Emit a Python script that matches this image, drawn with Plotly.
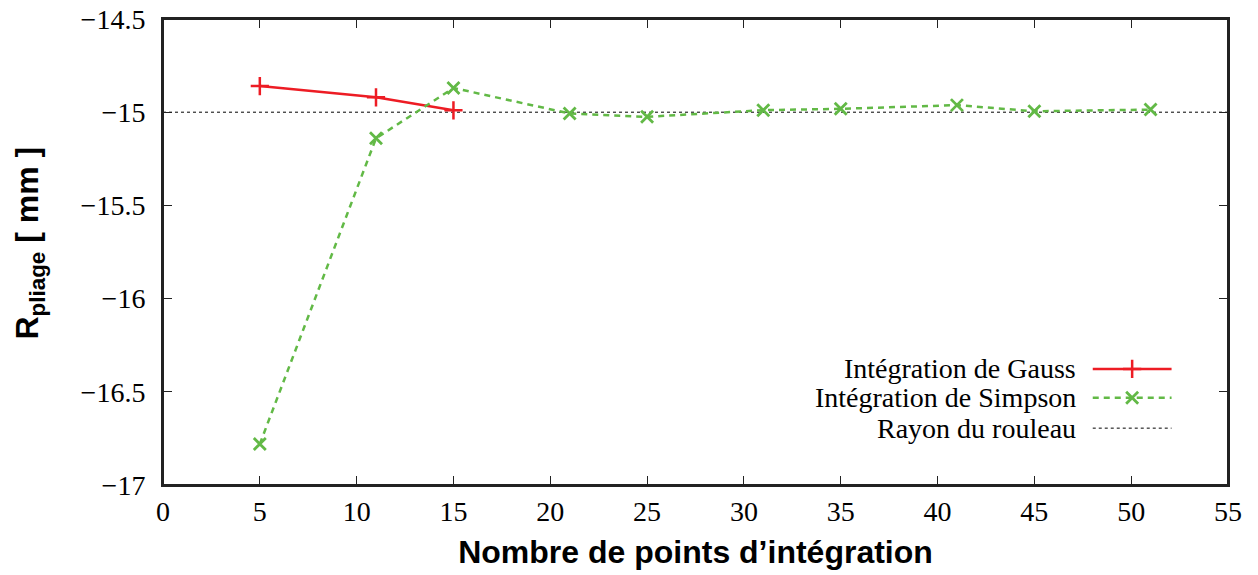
import plotly.graph_objects as go

# points d'intégration
x_gauss = [5, 11, 15]
r_gauss = [-14.86, -14.92, -14.99]

x_simpson = [5, 11, 15, 21, 25, 31, 35, 41, 45, 51]
r_simpson = [-16.78, -15.14, -14.87, -15.007, -15.025, -14.989, -14.982, -14.962, -14.995, -14.986]

rayon = -15.0

x_ticks = list(range(0, 56, 5))
y_ticks = [-14.5, -15, -15.5, -16, -16.5, -17]

RED = "#ed1c24"
GREEN = "#62b946"
SERIF = "Liberation Serif, Times New Roman, serif"
SANS = "Liberation Sans, Arial, sans-serif"

fig = go.Figure()

fig.add_trace(go.Scatter(
    x=x_gauss, y=r_gauss, mode="lines+markers",
    line=dict(color=RED, width=2.5),
    marker=dict(symbol="cross-thin", size=13, line=dict(color=RED, width=2.5)),
    showlegend=False,
))
fig.add_trace(go.Scatter(
    x=x_simpson, y=r_simpson, mode="lines+markers",
    line=dict(color=GREEN, width=2.5, dash="6px,5px"),
    marker=dict(symbol="x-thin", size=12, line=dict(color=GREEN, width=2.8)),
    showlegend=False,
))

# rayon du rouleau
fig.add_shape(type="line", xref="paper", x0=0, x1=1, y0=rayon, y1=rayon,
              line=dict(color="black", width=1, dash="dot"), layer="below")

# cadre du graphe
fig.add_shape(type="rect", xref="paper", yref="paper", x0=0, x1=1, y0=0, y1=1,
              line=dict(color="#222", width=2), layer="above")

# légende faite à la main (texte à gauche, symbole à droite)
legend_names = ["Intégration de Gauss", "Intégration de Simpson", "Rayon du rouleau"]
legend_y = [0.249, 0.187, 0.122]
for name, ly in zip(legend_names, legend_y):
    fig.add_annotation(xref="paper", yref="paper", x=0.859, y=ly, text=name,
                       showarrow=False, xanchor="right", yanchor="middle",
                       font=dict(family=SERIF, size=28, color="black"))

lx0, lx1 = 0.873, 0.947
fig.add_trace(go.Scatter(x=[lx0, lx1], y=[legend_y[0]] * 2, xaxis="x2", yaxis="y2",
                         mode="lines", line=dict(color=RED, width=2.5), showlegend=False))
fig.add_trace(go.Scatter(x=[(lx0 + lx1) / 2], y=[legend_y[0]], xaxis="x2", yaxis="y2",
                         mode="markers", marker=dict(symbol="cross-thin", size=13, line=dict(color=RED, width=2.5)),
                         showlegend=False))
fig.add_trace(go.Scatter(x=[lx0, lx1], y=[legend_y[1]] * 2, xaxis="x2", yaxis="y2",
                         mode="lines", line=dict(color=GREEN, width=2.5, dash="6px,5px"), showlegend=False))
fig.add_trace(go.Scatter(x=[(lx0 + lx1) / 2], y=[legend_y[1]], xaxis="x2", yaxis="y2",
                         mode="markers", marker=dict(symbol="x-thin", size=12, line=dict(color=GREEN, width=2.8)),
                         showlegend=False))
fig.add_trace(go.Scatter(x=[lx0, lx1], y=[legend_y[2]] * 2, xaxis="x2", yaxis="y2",
                         mode="lines", line=dict(color="black", width=1, dash="dot"), showlegend=False))

# titre de l'axe y, placé à la main
fig.add_annotation(xref="paper", yref="paper", x=-0.125, y=0.52, textangle=-90,
                   text="R<sub>pliage</sub> [ mm ]", showarrow=False,
                   xanchor="center", yanchor="middle",
                   font=dict(family=SANS, size=32, color="black", weight="bold"))

axis_common = dict(
    showgrid=False, zeroline=False, showline=True, linecolor="#222", linewidth=2,
    mirror="ticks", ticks="inside", ticklen=9, tickwidth=1.2, tickcolor="#222",
    tickfont=dict(family=SERIF, size=28, color="black"),
    ticklabeloverflow="allow", automargin=False,
)

fig.update_layout(
    width=1258, height=575,
    margin=dict(l=163, r=30, t=19, b=90),
    plot_bgcolor="white", paper_bgcolor="white",
    xaxis=dict(axis_common, range=[0, 55], tickvals=x_ticks, ticklabelstandoff=0,
               title=dict(text="Nombre de points d’intégration",
                          font=dict(family=SANS, size=32, color="black", weight="bold"))),
    yaxis=dict(axis_common, range=[-17, -14.5], tickvals=y_ticks, ticklabelstandoff=10),
    xaxis2=dict(range=[0, 1], overlaying="x", visible=False),
    yaxis2=dict(range=[0, 1], overlaying="y", visible=False),
)

fig.write_html("out.html", config={"displayModeBar": False},
               post_script="document.body.style.margin = '0';")
